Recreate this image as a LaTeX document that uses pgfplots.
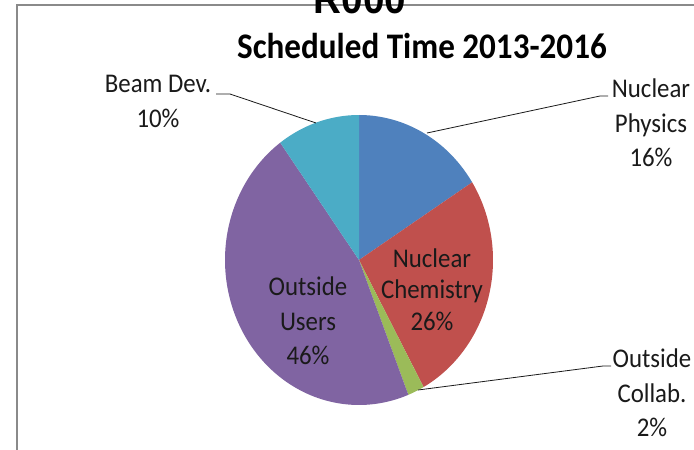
\documentclass[border=0pt]{standalone}
\usepackage{pgfplots}
\pgfplotsset{compat=1.18}
\usepackage{fontspec}
\setmainfont[FakeStretch=0.92]{Carlito}
\newfontfamily\rfont[FakeStretch=0.92]{Liberation Sans}
\definecolor{cNP}{HTML}{4F81BD}
\definecolor{cNC}{HTML}{C0504D}
\definecolor{cOC}{HTML}{9BBB59}
\definecolor{cOU}{HTML}{8064A2}
\definecolor{cBD}{HTML}{4BACC6}
\definecolor{frame}{HTML}{8A8A8A}
\definecolor{txt}{HTML}{1A1A1A}
\begin{document}
\begin{tikzpicture}
\clip (0,0) rectangle (694bp,450bp);
\begin{axis}[at={(0,0)},anchor=south west,width=694bp,height=450bp,scale only axis,
  xmin=0,xmax=694,ymin=0,ymax=450,hide axis,clip=false]
\fill[white] (axis cs:0,0) rectangle (axis cs:694,450);
\draw[color=frame,line width=1.5bp] (axis cs:17,-20) -- (axis cs:17,445) -- (axis cs:720,445);
% pie wedges: cumulative percentages 0,16,42,44,90,100 (clockwise from top)
\addplot[fill=cNP,draw=none,domain=0:16,samples=60] ({359+134*sin(3.6*x)},{190+145*cos(3.6*x)}) -- (axis cs:359,190) -- cycle;
\addplot[fill=cNC,draw=none,domain=16:42,samples=80] ({359+134*sin(3.6*x)},{190+145*cos(3.6*x)}) -- (axis cs:359,190) -- cycle;
\addplot[fill=cOC,draw=none,domain=42:44,samples=10] ({359+134*sin(3.6*x)},{190+145*cos(3.6*x)}) -- (axis cs:359,190) -- cycle;
\addplot[fill=cOU,draw=none,domain=44:90,samples=120] ({359+134*sin(3.6*x)},{190+145*cos(3.6*x)}) -- (axis cs:359,190) -- cycle;
\addplot[fill=cBD,draw=none,domain=90:100,samples=40] ({359+134*sin(3.6*x)},{190+145*cos(3.6*x)}) -- (axis cs:359,190) -- cycle;
% leader lines
\addplot[draw=txt,line width=0.8bp] coordinates {(216,356) (230,356) (316,327)};
\addplot[draw=txt,line width=0.8bp] coordinates {(427,317) (600,354) (608,354)};
\addplot[draw=txt,line width=0.8bp] coordinates {(418,60) (603,84) (611,84)};
% texts
\node[anchor=base,font=\rfont\bfseries\fontsize{42bp}{42bp}\selectfont] at (axis cs:360,436) {R000};
\node[anchor=base,font=\bfseries\fontsize{36bp}{36bp}\selectfont,text=black] at (axis cs:422,391) {Scheduled Time 2013-2016};
\begin{scope}[every node/.style={anchor=base,font=\fontsize{27bp}{27bp}\selectfont,text=txt}]
\node at (axis cs:158,358) {Beam Dev.};
\node at (axis cs:158,323) {10\%};
\node at (axis cs:651,353) {Nuclear};
\node at (axis cs:651,318) {Physics};
\node at (axis cs:651,284) {16\%};
\node at (axis cs:652,83) {Outside};
\node at (axis cs:652,48) {Collab.};
\node at (axis cs:652,14) {2\%};
\node at (axis cs:432,183) {Nuclear};
\node at (axis cs:432,152) {Chemistry};
\node at (axis cs:432,120) {26\%};
\node at (axis cs:308,155) {Outside};
\node at (axis cs:308,120) {Users};
\node at (axis cs:308,86) {46\%};
\end{scope}
\end{axis}
\end{tikzpicture}
\end{document}
